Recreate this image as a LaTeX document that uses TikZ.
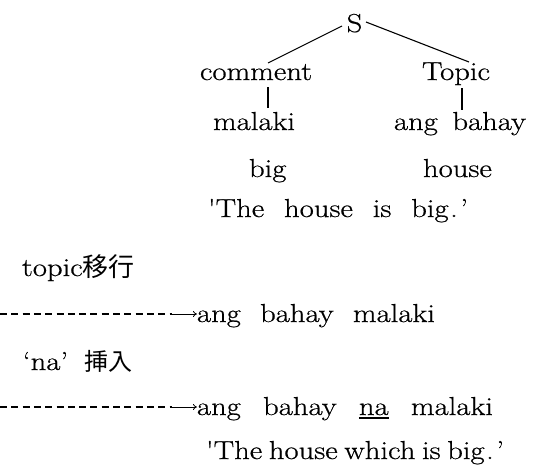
\documentclass[tikz,border=0pt]{standalone}
\usepackage{fontspec}
\setmainfont{Latin Modern Roman}[FakeStretch=1.18,FakeBold=0.6]
\newfontfamily\rawq{Latin Modern Roman}[FakeStretch=1.18,FakeBold=0.6]
\newfontfamily\jp{Noto Sans CJK JP}
\usetikzlibrary{arrows.meta}
\newcommand\myul[1]{\setbox0\hbox{#1}\rlap{\rule[-3.5pt]{\wd0}{1.5pt}}\box0\relax}
\newcommand\sq{{\rawq '}}
\newcommand\bigend{big\hspace{1.5pt}.\hspace{2.5pt}’}
\begin{document}
\begin{tikzpicture}[x=1pt,y=-1pt,
  every node/.style={inner sep=0pt, outer sep=0pt, font=\fontsize{26}{31}\selectfont},
  txt/.style={anchor=base west},
  ctr/.style={anchor=base},
  edge/.style={line width=1.1pt},
  dashline/.style={line width=2.2pt, dash pattern=on 7pt off 4.3pt},
  arr/.style={line width=0.8pt, -{To[length=4pt,width=6pt]}}]
\fill[white] (0,0) rectangle (535,475);
\useasboundingbox (0,0) rectangle (535,475);
% tree
\node[ctr] (S) at (354.5,32) {S};
\node[txt] (comment) at (200,80) {comment};
\node[txt] (Topic) at (422,80) {Topic};
\node[txt] (malaki) at (213,130) {malaki};
\node[txt] (angbahay) at (394,130) {\makebox[132pt][s]{ang bahay}};
\node[txt] (big) at (249,177) {big};
\node[txt] (house) at (423,177) {house};
\node[txt] (gloss1) at (208,217) {\makebox[260pt][s]{\sq The house is \bigend}};
\draw[edge] ([shift={(-12.5,-6)}]S.base) -- ([shift={(68,-17)}]comment.base west);
\draw[edge] ([shift={(11.5,-10)}]S.base) -- ([shift={(47,-18)}]Topic.base west);
\draw[edge] ([shift={(68,7)}]comment.base west) -- ([shift={(55,-22)}]malaki.base west);
\draw[edge] ([shift={(40,8)}]Topic.base west) -- ([shift={(68,-20)}]angbahay.base west);
% derivation
\node[txt] (lab1) at (22,276) {topic{\jp\fontsize{26}{30}\selectfont 移行}};
\node[txt] (line1) at (197,322) {\makebox[238pt][s]{ang bahay malaki}};
\coordinate (d1) at (0,314);
\coordinate (m1) at (172,314);
\draw[dashline] (d1) -- (m1);
\draw[arr] (m1) -- (m1 -| line1.west);
\node[txt] (lab2) at (23,370) {‘na’\hspace{16pt}{\jp\fontsize{24}{28}\selectfont 挿入}};
\node[txt] (line2) at (197,415) {\makebox[296pt][s]{ang bahay \myul{na} malaki}};
\coordinate (d2) at (0,407);
\coordinate (m2) at (172,407);
\draw[dashline] (d2) -- (m2);
\draw[arr] (m2) -- (m2 -| line2.west);
\node[txt] (gloss2) at (206,459) {\makebox[298pt][s]{\sq The house which is \bigend}};
\end{tikzpicture}
\end{document}
